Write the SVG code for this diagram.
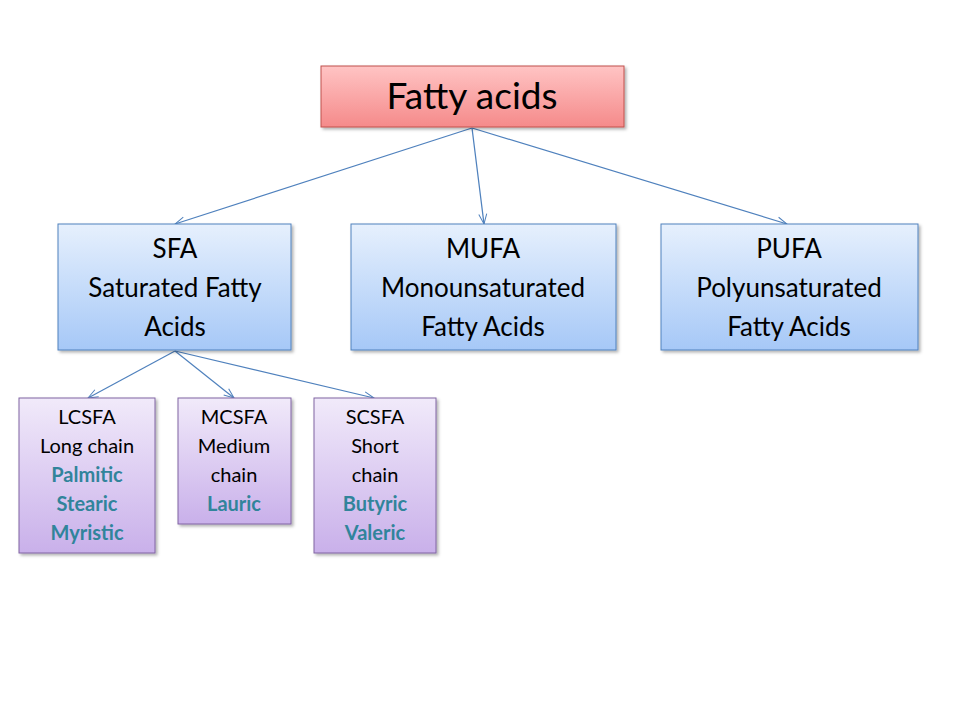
<svg xmlns="http://www.w3.org/2000/svg" width="960" height="720" viewBox="0 0 960 720">
<defs>
<linearGradient id="gr" x1="0" y1="0" x2="0" y2="1"><stop offset="0" stop-color="#ffc4c4"/><stop offset="1" stop-color="#f58a8a"/></linearGradient>
<linearGradient id="gb" x1="0" y1="0" x2="0" y2="1"><stop offset="0" stop-color="#e6f0fd"/><stop offset="1" stop-color="#a6c8f7"/></linearGradient>
<linearGradient id="gp" x1="0" y1="0" x2="0" y2="1"><stop offset="0" stop-color="#f1eafa"/><stop offset="1" stop-color="#c9b0ea"/></linearGradient>
<filter id="sh" x="-10%" y="-10%" width="130%" height="130%"><feDropShadow dx="2" dy="2" stdDeviation="1.5" flood-color="#000" flood-opacity="0.3"/></filter>
<marker id="ar" markerWidth="12" markerHeight="10" refX="11" refY="5" orient="auto" markerUnits="userSpaceOnUse"><path d="M1,1 L11,5 L1,9" fill="none" stroke="#4f81bd" stroke-width="1"/></marker>
</defs>
<style>
text{font-family:Lato,"Open Sans","Liberation Sans",sans-serif;text-anchor:middle;fill:#000}
.r{fill:url(#gr);stroke:#c0504d;filter:url(#sh)}
.b{fill:url(#gb);stroke:#4f81bd;filter:url(#sh)}
.p{fill:url(#gp);stroke:#8064a2;filter:url(#sh)}
.m{font-size:26px}
.s{font-size:20px}
.k{fill:#31849b;font-weight:bold}
.c{stroke:#4f81bd;stroke-width:1.2;fill:none;marker-end:url(#ar)}
</style>
<rect width="960" height="720" fill="#fff"/>
<g id="connectors">
<line class="c" x1="472" y1="128" x2="175" y2="224"/>
<line class="c" x1="472" y1="128" x2="484" y2="224"/>
<line class="c" x1="472" y1="128" x2="787" y2="224"/>
<line class="c" x1="175" y1="351" x2="88" y2="398"/>
<line class="c" x1="175" y1="351" x2="234" y2="398"/>
<line class="c" x1="175" y1="351" x2="374" y2="398"/>
</g>
<g id="fatty"><rect class="r" x="321" y="66" width="303" height="61"/><text x="472" y="109" font-size="37">Fatty acids</text></g>
<g id="sfa"><rect class="b" x="58" y="224" width="233" height="126"/><text class="m" x="175" y="258">SFA</text><text class="m" x="175" y="297">Saturated Fatty</text><text class="m" x="175" y="336">Acids</text></g>
<g id="mufa"><rect class="b" x="351" y="224" width="265" height="126"/><text class="m" x="483" y="258">MUFA</text><text class="m" x="483" y="297">Monounsaturated</text><text class="m" x="483" y="336">Fatty Acids</text></g>
<g id="pufa"><rect class="b" x="661" y="224" width="257" height="126"/><text class="m" x="789" y="258">PUFA</text><text class="m" x="789" y="297">Polyunsaturated</text><text class="m" x="789" y="336">Fatty Acids</text></g>
<g id="lcsfa"><rect class="p" x="19" y="398" width="136" height="155"/><text class="s" x="87" y="424">LCSFA</text><text class="s" x="87" y="453">Long chain</text><text class="s k" x="87" y="482">Palmitic</text><text class="s k" x="87" y="511">Stearic</text><text class="s k" x="87" y="540">Myristic</text></g>
<g id="mcsfa"><rect class="p" x="178" y="398" width="113" height="126"/><text class="s" x="234" y="424">MCSFA</text><text class="s" x="234" y="453">Medium</text><text class="s" x="234" y="482">chain</text><text class="s k" x="234" y="511">Lauric</text></g>
<g id="scsfa"><rect class="p" x="314" y="398" width="122" height="155"/><text class="s" x="375" y="424">SCSFA</text><text class="s" x="375" y="453">Short</text><text class="s" x="375" y="482">chain</text><text class="s k" x="375" y="511">Butyric</text><text class="s k" x="375" y="540">Valeric</text></g>
</svg>
